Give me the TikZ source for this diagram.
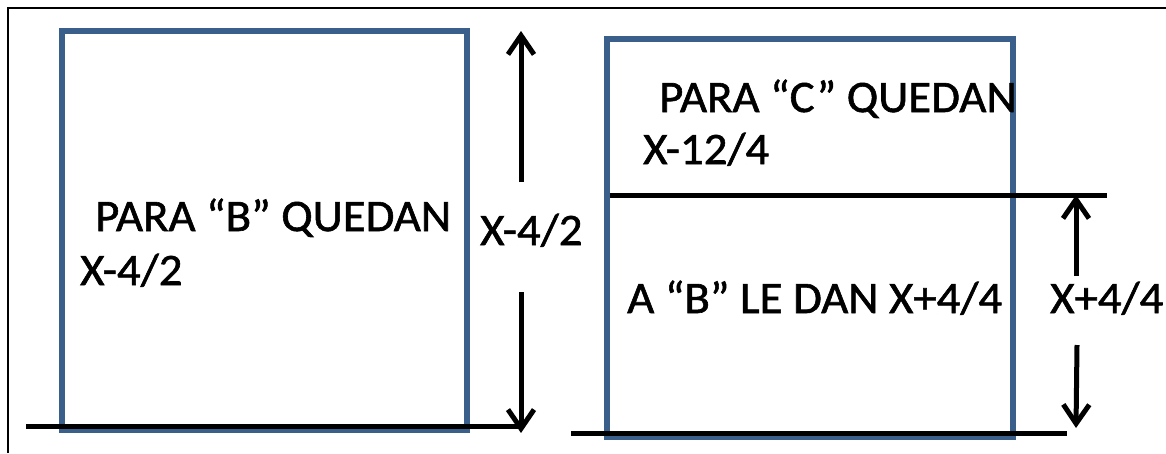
\documentclass[tikz,border=0pt]{standalone}
\usepackage{fontspec}
\setmainfont{Carlito}
\newfontfamily\lblfont{Carlito}[FakeStretch=1.04,FakeBold=1.3]
\usetikzlibrary{arrows.meta}
\definecolor{boxblue}{RGB}{58,95,139}
\begin{document}
\begin{tikzpicture}[x=1pt,y=-1pt,
  box/.style={draw=boxblue,line width=6pt,inner sep=0pt,outer sep=0pt,anchor=north west},
  baseline/.style={draw=black,line width=5pt},
  dimarrow/.style={draw=black,line width=5pt,-{Straight Barb[length=19pt,width=26pt]}},
  lbl/.style={inner sep=0pt,anchor=base west,font=\lblfont\fontsize{45}{54}\selectfont}]
\useasboundingbox (0,0) rectangle (1166,453);
% frame
\draw[line width=2.5pt] (8,453) -- (8,8) -- (1166,8);
% boxes
\node[box,minimum width=405pt,minimum height=399pt] (lbox) at (62,31) {};
\node[box,minimum width=406pt,minimum height=398pt] (rbox) at (607,39) {};
% base and divider lines
\coordinate (lb1) at (26,426);
\coordinate (lb2) at (518,426);
\draw[baseline] (lb1) -- (lb2);
\coordinate (rb1) at (571,433);
\coordinate (rb2) at (1067,433);
\draw[baseline] (rb1) -- (rb2);
\coordinate (md1) at (610,195);
\coordinate (md2) at (1107,195);
\draw[baseline] (md1) -- (md2);
% left dimension arrows
\coordinate (la1) at (521,182);
\coordinate (la2) at (521,31);
\coordinate (la3) at (521,292);
\coordinate (la4) at (521,433);
\draw[dimarrow] (la1) -- (la2);
\draw[dimarrow] (la3) -- (la4);
% right dimension arrows
\coordinate (ra1) at (1076,276);
\coordinate (ra2) at (1076,195);
\coordinate (ra3) at (1077,345);
\coordinate (ra4) at (1076,428);
\draw[dimarrow] (ra1) -- (ra2);
\draw[dimarrow] (ra3) -- (ra4);
% labels
\node[lbl] (t1) at (95,231) {PARA “B” QUEDAN};
\node[lbl] (t2) at (80,285) {X-4/2};
\node[lbl] (t3) at (480,245) {X-4/2};
\node[lbl] (t4) at (659,112) {PARA “C” QUEDAN};
\node[lbl] (t5) at (643,164) {X-12/4};
\node[lbl] (t6) at (627,313) {A “B” LE DAN X+4/4};
\node[lbl] (t7) at (1050,313) {X+4/4};
\end{tikzpicture}
\end{document}
